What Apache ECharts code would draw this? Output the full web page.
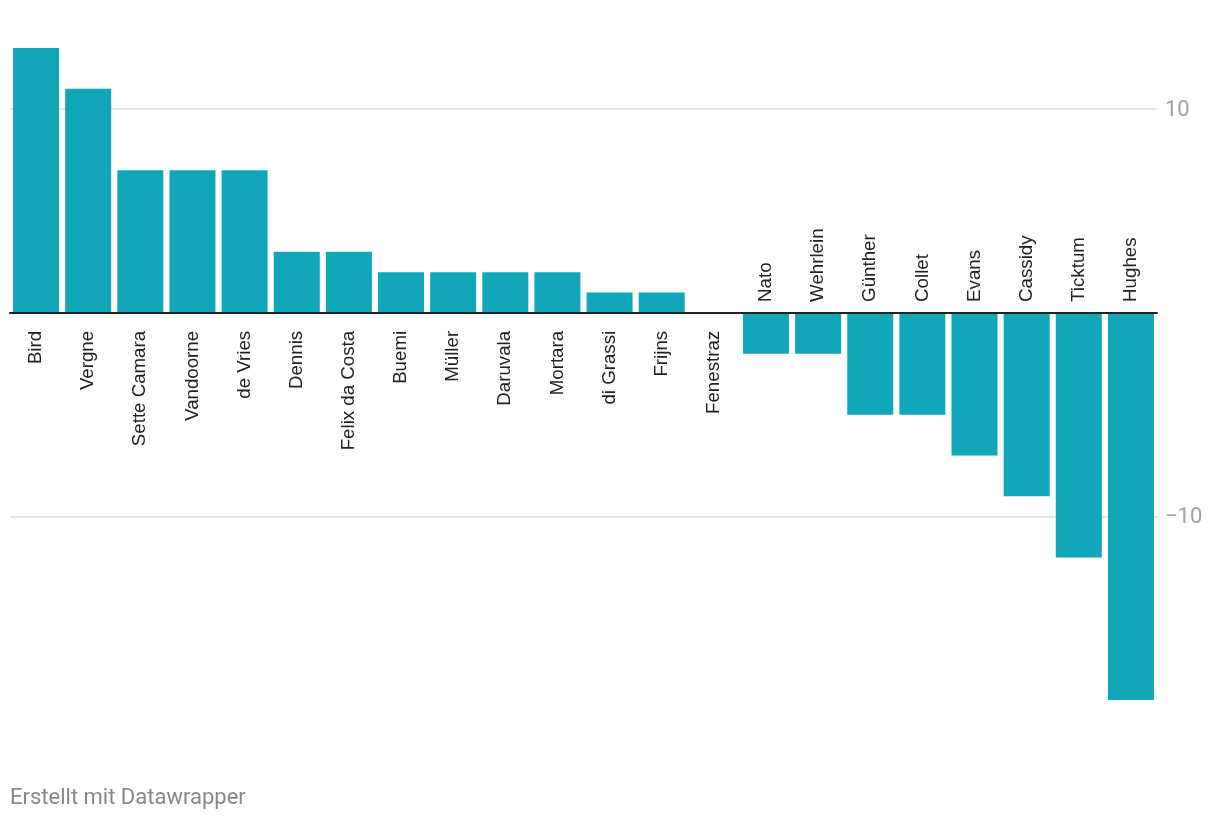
<!DOCTYPE html>
<html><head><meta charset="utf-8">
<script src="https://cdn.jsdelivr.net/npm/echarts@6/dist/echarts.min.js"></script>
<style>html,body{margin:0;padding:0;background:#fff}#c{width:1220px;height:820px}</style>
</head><body><div id="c"></div>
<script>
const categories = ['Bird','Vergne','Sette Camara','Vandoorne','de Vries','Dennis','Felix da Costa','Buemi','Müller','Daruvala','Mortara','di Grassi','Frijns','Fenestraz','Nato','Wehrlein','Günther','Collet','Evans','Cassidy','Ticktum','Hughes'];
const values = [13,11,7,7,7,3,3,2,2,2,2,1,1,0,-2,-2,-5,-5,-7,-9,-12,-19];
const gridValues = [10,-10];
const gridLabels = ['10','\u221210'];
const footer = 'Erstellt mit Datawrapper';

const chart = echarts.init(document.getElementById('c'), null, {renderer:'canvas'});
chart.setOption({
  animation: false,
  backgroundColor: '#ffffff',
  grid: {left: 10, right: 63, top: 48, bottom: 120, containLabel: false},
  xAxis: {
    type: 'category', data: categories, boundaryGap: true,
    axisLabel: {show: false}, axisTick: {show: false},
    axisLine: {show: true, onZero: true, lineStyle: {color: '#222', width: 2}},
    splitLine: {show: false}, z: 3
  },
  yAxis: {
    type: 'value', position: 'right', min: -19, max: 13,
    axisLabel: {show: false}, axisTick: {show: false}, axisLine: {show: false},
    splitLine: {show: false}
  },
  graphic: [{
    type: 'text', left: 10, top: 787,
    style: {text: footer, fill: '#888', font: '22px Roboto'}
  }],
  series: [{
    type: 'bar', data: values, barWidth: 46,
    itemStyle: {color: '#12a6b9'},
    z: 2,
    markLine: {
      silent: true, symbol: 'none', z: 1, animation: false,
      lineStyle: {color: '#e5e5e5', width: 2, type: 'solid'},
      label: {position: 'end', distance: 8, color: '#a0a0a0', fontSize: 22, fontFamily: 'Roboto', offset: [0, 1]},
      data: gridValues.map((v, i) => ({yAxis: v, label: {formatter: gridLabels[i]}}))
    }
  }, {
    type: 'custom', clip: false, z: 4,
    data: values.map((v, i) => [i, v]),
    encode: {x: 0, y: 1},
    renderItem: function (params, api) {
      const i = api.value(0), v = api.value(1);
      const p = api.coord([i, 0]);
      const pos = v >= 0;
      return {
        type: 'text', x: p[0], y: pos ? p[1] + 18 : p[1] - 11, rotation: Math.PI / 2,
        style: {
          text: categories[params.dataIndex], fill: '#222', font: '18.7px "Liberation Sans", Arial, sans-serif',
          align: pos ? 'right' : 'left', verticalAlign: 'middle'
        }
      };
    }
  }]
});
</script></body></html>
